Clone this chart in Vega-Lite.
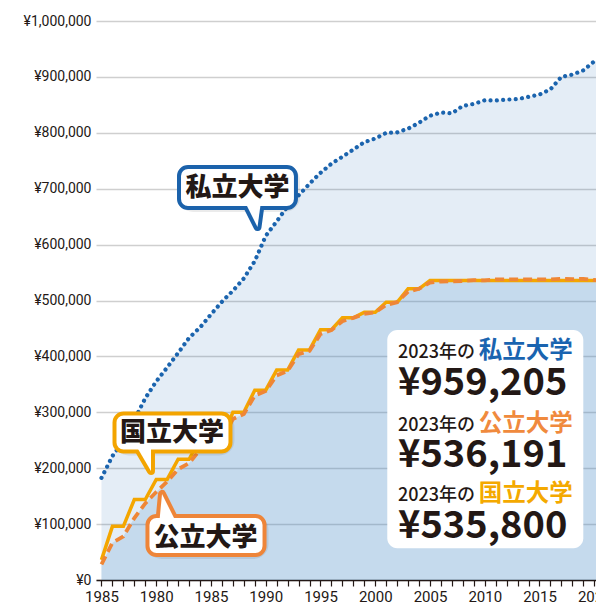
{
  "$schema": "https://vega.github.io/schema/vega-lite/v6.json",
  "width": 500,
  "height": 559,
  "autosize": {"type": "none"},
  "padding": {"left": 96, "top": 21, "right": 0, "bottom": 23},
  "background": "white",
  "view": {"stroke": null},
  "config": {"font": "Roboto"},
  "datasets": {
    "fees": [
      {"year": 1975, "private": 182677, "national": 36000, "public": 27847},
      {"year": 1976, "private": 221844, "national": 96000, "public": 66582},
      {"year": 1977, "private": 248066, "national": 96000, "public": 78141},
      {"year": 1978, "private": 286568, "national": 144000, "public": 110691},
      {"year": 1979, "private": 325198, "national": 144000, "public": 137104},
      {"year": 1980, "private": 355156, "national": 180000, "public": 157412},
      {"year": 1981, "private": 380253, "national": 180000, "public": 176062},
      {"year": 1982, "private": 406261, "national": 216000, "public": 198209},
      {"year": 1983, "private": 433200, "national": 216000, "public": 209060},
      {"year": 1984, "private": 451722, "national": 252000, "public": 233353},
      {"year": 1985, "private": 475325, "national": 252000, "public": 243082},
      {"year": 1986, "private": 497826, "national": 252000, "public": 250868},
      {"year": 1987, "private": 517395, "national": 300000, "public": 288000},
      {"year": 1988, "private": 539591, "national": 300000, "public": 297000},
      {"year": 1989, "private": 570584, "national": 339600, "public": 330000},
      {"year": 1990, "private": 615486, "national": 339600, "public": 338000},
      {"year": 1991, "private": 641608, "national": 375600, "public": 366000},
      {"year": 1992, "private": 668460, "national": 375600, "public": 374000},
      {"year": 1993, "private": 688046, "national": 411600, "public": 404000},
      {"year": 1994, "private": 708847, "national": 411600, "public": 410000},
      {"year": 1995, "private": 728365, "national": 447600, "public": 440000},
      {"year": 1996, "private": 744733, "national": 447600, "public": 447000},
      {"year": 1997, "private": 757158, "national": 469200, "public": 463000},
      {"year": 1998, "private": 770024, "national": 469200, "public": 469000},
      {"year": 1999, "private": 783298, "national": 478800, "public": 476000},
      {"year": 2000, "private": 789659, "national": 478800, "public": 479000},
      {"year": 2001, "private": 799973, "national": 496800, "public": 492000},
      {"year": 2002, "private": 800727, "national": 496800, "public": 497000},
      {"year": 2003, "private": 807413, "national": 520800, "public": 516000},
      {"year": 2004, "private": 817952, "national": 520800, "public": 521000},
      {"year": 2005, "private": 830583, "national": 535800, "public": 532000},
      {"year": 2006, "private": 836297, "national": 535800, "public": 534023},
      {"year": 2007, "private": 834751, "national": 535800, "public": 534089},
      {"year": 2008, "private": 848178, "national": 535800, "public": 534956},
      {"year": 2009, "private": 851621, "national": 535800, "public": 536449},
      {"year": 2010, "private": 858265, "national": 535800, "public": 535962},
      {"year": 2011, "private": 857763, "national": 535800, "public": 537960},
      {"year": 2012, "private": 859367, "national": 535800, "public": 537933},
      {"year": 2013, "private": 860266, "national": 535800, "public": 537857},
      {"year": 2014, "private": 864384, "national": 535800, "public": 537809},
      {"year": 2015, "private": 868447, "national": 535800, "public": 537809},
      {"year": 2016, "private": 877735, "national": 535800, "public": 537809},
      {"year": 2017, "private": 900093, "national": 535800, "public": 538633},
      {"year": 2018, "private": 904146, "national": 535800, "public": 538294},
      {"year": 2019, "private": 911716, "national": 535800, "public": 538734},
      {"year": 2020, "private": 927705, "national": 535800, "public": 536632},
      {"year": 2021, "private": 930943, "national": 535800, "public": 536363},
      {"year": 2022, "private": 930943, "national": 535800, "public": 536191},
      {"year": 2023, "private": 959205, "national": 535800, "public": 536191}
    ],
    "callouts": [
      {"name": "私立大学", "x1": 1982.08, "x2": 1992.76, "y1": 738816, "y2": 665471, "tx": 1987.42, "ty": 702143},
      {"name": "国立大学", "x1": 1976.19, "x2": 1986.78, "y1": 297852, "y2": 229874, "tx": 1981.44, "ty": 262968},
      {"name": "公立大学", "x1": 1979.20, "x2": 1989.89, "y1": 114490, "y2": 44722, "tx": 1984.5, "ty": 76028}
    ],
    "pointers": [
      {"name": "私立大学", "px": 1987.92, "py": 683360, "py2": 683360},
      {"name": "私立大学", "px": 1989.25, "py": 683360, "py2": 631482},
      {"name": "私立大学", "px": 1989.61, "py": 683360, "py2": 683360},
      {"name": "国立大学", "px": 1978.02, "py": 245079, "py2": 245079},
      {"name": "国立大学", "px": 1979.52, "py": 245079, "py2": 194990},
      {"name": "公立大学", "px": 1980.25, "py": 96601, "py2": 96601},
      {"name": "公立大学", "px": 1980.53, "py": 96601, "py2": 153845},
      {"name": "公立大学", "px": 1981.99, "py": 96601, "py2": 96601}
    ],
    "box": [
      {"x1": 2001.10, "x2": 2019.00, "y1": 447225, "y2": 56710}
    ],
    "heads": [
      {"name": "私立大学", "lead": "2023年の", "amount": "¥959,205", "hy": 397136, "vy": 330950},
      {"name": "公立大学", "lead": "2023年の", "amount": "¥536,191", "hy": 266540, "vy": 202150},
      {"name": "国立大学", "lead": "2023年の", "amount": "¥535,800", "hy": 141320, "vy": 75130}
    ]
  },
  "layer": [
    {
      "data": {"name": "fees"},
      "mark": {"type": "area", "fill": "#1e69b4", "fillOpacity": 0.12, "clip": true},
      "encoding": {
        "x": {
          "field": "year", "type": "quantitative",
          "scale": {"domain": [1974.5, 2020.16], "nice": false, "zero": false},
          "axis": {
            "title": null,
            "values": [1975,1976,1977,1978,1979,1980,1981,1982,1983,1984,1985,1986,1987,1988,1989,1990,1991,1992,1993,1994,1995,1996,1997,1998,1999,2000,2001,2002,2003,2004,2005,2006,2007,2008,2009,2010,2011,2012,2013,2014,2015,2016,2017,2018,2019,2020],
            "tickCount": 100,
            "labelExpr": "datum.value % 5 === 0 ? (datum.value === 1975 ? '1985' : toString(datum.value)) : ''",
            "grid": false,
            "domainColor": "#231815", "domainWidth": 1.5,
            "tickColor": "#231815", "tickWidth": 1.2, "tickSize": 6,
            "labelFontSize": 15, "labelColor": "#231815", "labelPadding": 3,
            "labelFlush": false, "labelOverlap": false, "labelBound": false
          }
        },
        "y": {
          "field": "private", "type": "quantitative", "stack": null,
          "scale": {"domain": [0, 1000000], "nice": false},
          "axis": {
            "title": null,
            "values": [0,100000,200000,300000,400000,500000,600000,700000,800000,900000,1000000],
            "tickCount": 100,
            "labelExpr": "'¥' + format(datum.value, ',')",
            "domain": false, "ticks": false,
            "gridColor": "#cfcfcf", "gridWidth": 1.5,
            "labelFontSize": 14, "labelColor": "#231815", "labelPadding": 5
          }
        }
      }
    },
    {
      "data": {"name": "fees"},
      "mark": {"type": "area", "fill": "#4993ce", "fillOpacity": 0.2, "clip": true},
      "encoding": {
        "x": {"field": "year", "type": "quantitative"},
        "y": {"field": "public", "type": "quantitative", "stack": null}
      }
    },
    {
      "data": {"name": "fees"},
      "mark": {"type": "line", "stroke": "#f4a600", "strokeWidth": 3.5, "clip": true},
      "encoding": {
        "x": {"field": "year", "type": "quantitative"},
        "y": {"field": "national", "type": "quantitative"}
      }
    },
    {
      "data": {"name": "fees"},
      "mark": {"type": "line", "stroke": "#ef8636", "strokeWidth": 3.8, "strokeDash": [9, 5], "clip": true},
      "encoding": {
        "x": {"field": "year", "type": "quantitative"},
        "y": {"field": "public", "type": "quantitative"}
      }
    },
    {
      "data": {"name": "fees"},
      "mark": {"type": "line", "stroke": "#1b64ae", "strokeWidth": 4.2, "strokeDash": [0.01, 6.3], "strokeCap": "round", "clip": true},
      "encoding": {
        "x": {"field": "year", "type": "quantitative"},
        "y": {"field": "private", "type": "quantitative"}
      }
    },
    {
      "data": {"name": "callouts"},
      "mark": {"type": "rect", "fill": "#000000", "fillOpacity": 0.12, "stroke": "#000000", "strokeOpacity": 0.08, "strokeWidth": 8, "cornerRadius": 11, "xOffset": 3, "yOffset": 3},
      "encoding": {
        "x": {"field": "x1", "type": "quantitative"},
        "x2": {"field": "x2"},
        "y": {"field": "y1", "type": "quantitative"},
        "y2": {"field": "y2"}
      }
    },
    {
      "data": {"name": "pointers"},
      "mark": {"type": "area", "fill": "white", "strokeWidth": 8, "strokeJoin": "round"},
      "encoding": {
        "x": {"field": "px", "type": "quantitative"},
        "y": {"field": "py", "type": "quantitative", "stack": null},
        "y2": {"field": "py2"},
        "stroke": {"field": "name", "type": "nominal", "legend": null,
          "scale": {"domain": ["私立大学", "公立大学", "国立大学"], "range": ["#1b62ab", "#ee8539", "#f3a400"]}}
      }
    },
    {
      "data": {"name": "callouts"},
      "mark": {"type": "rect", "fill": "white", "strokeWidth": 4, "cornerRadius": 9},
      "encoding": {
        "x": {"field": "x1", "type": "quantitative"},
        "x2": {"field": "x2"},
        "y": {"field": "y1", "type": "quantitative"},
        "y2": {"field": "y2"},
        "stroke": {"field": "name", "type": "nominal", "legend": null}
      }
    },
    {
      "data": {"name": "pointers"},
      "mark": {"type": "area", "fill": "white", "strokeWidth": 0},
      "encoding": {
        "x": {"field": "px", "type": "quantitative"},
        "y": {"field": "py", "type": "quantitative", "stack": null},
        "y2": {"field": "py2"},
        "detail": {"field": "name", "type": "nominal"}
      }
    },
    {
      "data": {"name": "callouts"},
      "mark": {"type": "text", "font": "Noto Sans CJK JP", "fontWeight": 900, "fontSize": 26, "fill": "#231815", "align": "center", "baseline": "middle"},
      "encoding": {
        "x": {"field": "tx", "type": "quantitative"},
        "y": {"field": "ty", "type": "quantitative"},
        "text": {"field": "name"}
      }
    },
    {
      "data": {"name": "box"},
      "mark": {"type": "rect", "fill": "white", "cornerRadius": 10},
      "encoding": {
        "x": {"field": "x1", "type": "quantitative"},
        "x2": {"field": "x2"},
        "y": {"field": "y1", "type": "quantitative"},
        "y2": {"field": "y2"}
      }
    },
    {
      "data": {"name": "heads"},
      "mark": {"type": "text", "font": "Noto Sans CJK JP", "fontWeight": 500, "fontSize": 18, "fill": "#231815", "align": "left", "baseline": "alphabetic"},
      "encoding": {
        "x": {"datum": 2002.08, "type": "quantitative"},
        "y": {"field": "hy", "type": "quantitative"},
        "text": {"field": "lead"}
      }
    },
    {
      "data": {"name": "heads"},
      "mark": {"type": "text", "font": "Noto Sans CJK JP", "fontWeight": "bold", "fontSize": 23.5, "align": "right", "baseline": "alphabetic"},
      "encoding": {
        "x": {"datum": 2018.03, "type": "quantitative"},
        "y": {"field": "hy", "type": "quantitative"},
        "text": {"field": "name"},
        "fill": {"field": "name", "type": "nominal", "legend": null,
          "scale": {"domain": ["私立大学", "公立大学", "国立大学"], "range": ["#1a64b0", "#f08a3d", "#f4a900"]}}
      }
    },
    {
      "data": {"name": "heads"},
      "mark": {"type": "text", "font": "Noto Sans CJK JP", "fontWeight": "bold", "fontSize": 38, "fill": "#231815", "align": "left", "baseline": "alphabetic"},
      "encoding": {
        "x": {"datum": 2002.08, "type": "quantitative"},
        "y": {"field": "vy", "type": "quantitative"},
        "text": {"field": "amount"}
      }
    }
  ]
}
